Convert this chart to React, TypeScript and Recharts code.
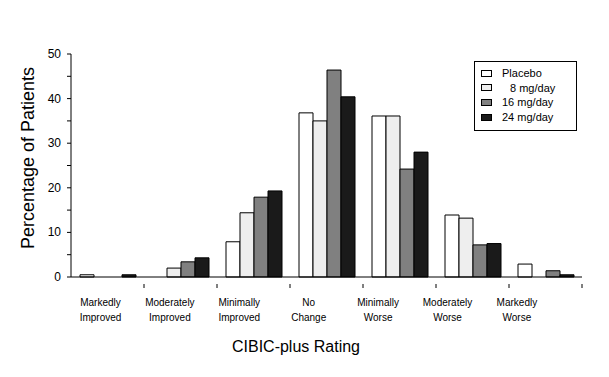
import React from 'react';
import { BarChart, Bar, XAxis, YAxis } from 'recharts';

const ratings = [
  ['Markedly', 'Improved'],
  ['Moderately', 'Improved'],
  ['Minimally', 'Improved'],
  ['No', 'Change'],
  ['Minimally', 'Worse'],
  ['Moderately', 'Worse'],
  ['Markedly', 'Worse'],
];
const placebo = [0.5, 0, 7.9, 36.8, 36.1, 13.9, 2.9];
const mg8 = [0, 2.0, 14.4, 35.0, 36.1, 13.2, 0];
const mg16 = [0, 3.4, 17.9, 46.4, 24.2, 7.2, 1.4];
const mg24 = [0.5, 4.3, 19.3, 40.4, 28.0, 7.5, 0.5];
const yTicks = [0, 5, 10, 15, 20, 25, 30, 35, 40, 45, 50];

const series = [
  { key: 'placebo', name: 'Placebo', fill: '#ffffff' },
  { key: 'mg8', name: '8 mg/day', fill: '#eeeeee' },
  { key: 'mg16', name: '16 mg/day', fill: '#808080' },
  { key: 'mg24', name: '24 mg/day', fill: '#1a1a1a' },
];

const data = ratings.map((r, i) => ({
  name: r.join(' '),
  placebo: placebo[i],
  mg8: mg8[i],
  mg16: mg16[i],
  mg24: mg24[i],
}));

const font = '"Liberation Sans", Arial, sans-serif';
const BAND = 73;

const XTick = (props: any) => {
  const { x, y, index } = props;
  const lines = ratings[index];
  const lx = x - 7 - index * 3.6;
  return (
    <g>
      <line x1={x + BAND / 2} x2={x + BAND / 2} y1={y - 1} y2={y + 3} stroke="#000" />
      <text x={lx} y={y + 21} textAnchor="middle" fontSize={10} fontFamily={font} fill="#000">
        <tspan x={lx}>{lines[0]}</tspan>
        <tspan x={lx} dy={15}>{lines[1]}</tspan>
      </text>
    </g>
  );
};

const YTick = (props: any) => {
  const { x, y, payload } = props;
  if (payload.value % 10 !== 0) return null;
  return (
    <text x={x - 4} y={y + 4} textAnchor="end" fontSize={12} fontFamily={font} fill="#000">
      {payload.value}
    </text>
  );
};

const LegendBox = () => (
  <div
    style={{
      position: 'absolute',
      left: 474,
      top: 61,
      width: 101,
      height: 68,
      border: '1px solid #000',
      background: '#fff',
      fontFamily: font,
      fontSize: 11,
    }}
  >
    {series.map((s, i) => (
      <div key={s.key} style={{ position: 'absolute', left: 6, top: 4 + i * 14.7, height: 14, display: 'flex', alignItems: 'center' }}>
        <span style={{ display: 'inline-block', width: 9, height: 5, border: '1px solid #000', background: s.fill }} />
        <span style={{ marginLeft: i === 1 ? 18 : 10, whiteSpace: 'nowrap' }}>{s.name}</span>
      </div>
    ))}
  </div>
);

export default function App() {
  return (
    <div style={{ position: 'absolute', left: 0, top: 0, width: 609, height: 377, background: '#fff' }}>
      <BarChart
        width={609}
        height={377}
        data={data}
        margin={{ top: 54, right: 27, bottom: 0, left: 0 }}
        barCategoryGap={9}
        barGap={0}
      >
        <XAxis
          dataKey="name"
          axisLine={{ stroke: '#000' }}
          tickLine={false}
          tick={<XTick />}
          interval={0}
          height={100}
          label={{
            value: 'CIBIC-plus Rating',
            content: () => (
              <text x={296} y={352} textAnchor="middle" fontSize={16} fontFamily={font} fill="#000">
                CIBIC-plus Rating
              </text>
            ),
          }}
        />
        <YAxis
          width={71}
          domain={[0, 50]}
          ticks={yTicks}
          interval={0}
          axisLine={{ stroke: '#000' }}
          tickLine={{ stroke: '#000' }}
          tickSize={4}
          tick={<YTick />}
          label={{
            value: 'Percentage of Patients',
            content: () => (
              <text
                x={28}
                y={158}
                transform="rotate(-90 28 158)"
                textAnchor="middle"
                dominantBaseline="central"
                fontSize={18}
                fontFamily={font}
                fill="#000"
              >
                Percentage  of Patients
              </text>
            ),
          }}
        />
        {series.map((s) => (
          <Bar key={s.key} dataKey={s.key} name={s.name} fill={s.fill} stroke="#000" strokeWidth={1} isAnimationActive={false} />
        ))}
      </BarChart>
      <LegendBox />
    </div>
  );
}
